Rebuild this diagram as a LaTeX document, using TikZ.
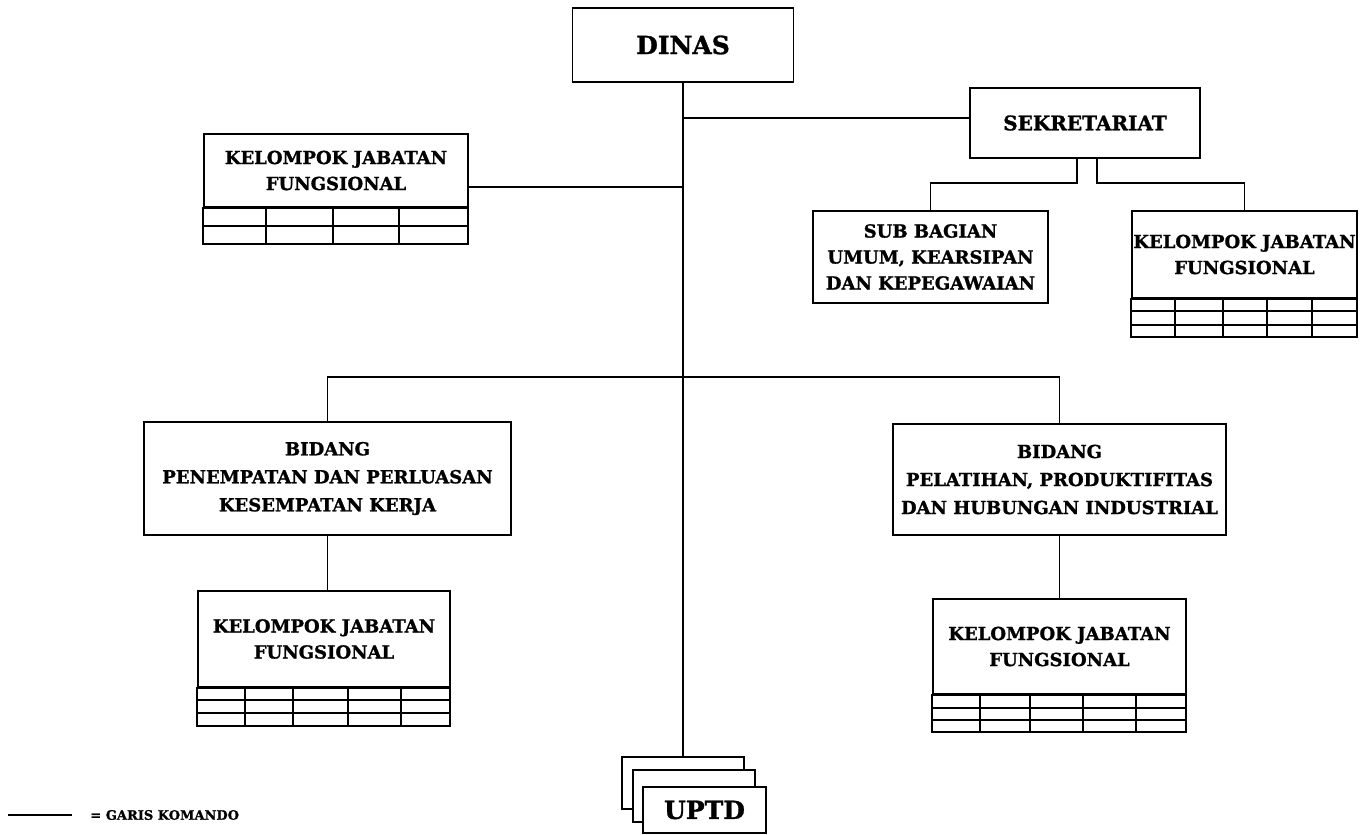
\documentclass[tikz,border=0pt]{standalone}
\usepackage{fontspec}
\setmainfont{DejaVu Serif}[BoldFeatures={FakeBold=1.2}]
\usepackage{tikz}

\begin{document}
\begin{tikzpicture}[x=0.5pt,y=-0.5pt,
		box/.style={draw, line width=.85pt, align=center, inner sep=0pt,
			font=\bfseries\fontsize{9}{13}\selectfont},
		big/.style={font=\bfseries\fontsize{12.5}{15}\selectfont},
		line/.style={line width=.7pt},
		grid/.style={line width=.7pt}]
				\useasboundingbox (0,0) rectangle (1363,834);
				% top level
				\node[box,big,minimum width=110.5pt,minimum height=37pt] (dinas) at (683,45) {DINAS};
				\node[box,minimum width=115pt,minimum height=35pt,font=\bfseries\fontsize{10}{12}\selectfont] (sekr) at (1085,123) {SEKRETARIAT};
				\node[box,minimum width=132pt,minimum height=36.5pt] (kjfA) at (336,170.5) {KELOMPOK JABATAN\\FUNGSIONAL};
				\node[box,minimum width=117.5pt,minimum height=46pt] (sub) at (930.5,257) {SUB BAGIAN\\UMUM, KEARSIPAN\\DAN KEPEGAWAIAN};
				\node[box,minimum width=112.5pt,minimum height=43.5pt] (kjfB) at (1244.5,254.5) {KELOMPOK JABATAN\\FUNGSIONAL};
				% bidang
				\node[box,minimum width=183.5pt,minimum height=56.5pt,font=\bfseries\fontsize{9}{14}\selectfont] (bidA) at (327.5,478.5) {BIDANG\\PENEMPATAN DAN PERLUASAN\\KESEMPATAN KERJA};
				\node[box,minimum width=166.5pt,minimum height=55.5pt,font=\bfseries\fontsize{9}{14}\selectfont] (bidB) at (1059.5,479.5) {BIDANG\\PELATIHAN, PRODUKTIFITAS\\DAN HUBUNGAN INDUSTRIAL};
				\node[box,minimum width=126pt,minimum height=48pt] (kjfC) at (324,639) {KELOMPOK JABATAN\\FUNGSIONAL};
				\node[box,minimum width=126.5pt,minimum height=47.5pt] (kjfD) at (1059.5,646.5) {KELOMPOK JABATAN\\FUNGSIONAL};
				% uptd
				\node[box,fill=white,minimum width=61pt,minimum height=26pt] (uptdA) at (683,783) {};
				\node[box,fill=white,minimum width=61pt,minimum height=26pt] (uptdB) at (694,796) {};
				\node[box,big,fill=white,minimum width=61.5pt,minimum height=23pt] (uptd) at (704.5,810) {UPTD};
				% grids
				\draw[grid] (kjfA.south west) rectangle (468,244);
				\draw[grid] (204,226) -- (468,226);
				\foreach \x in {266,333,399} \draw[grid] (\x,207) -- (\x,244);
				\draw[grid] (kjfB.south west) rectangle (1357,337);
				\foreach \y in {311,325} \draw[grid] (1132,\y) -- (1357,\y);
				\foreach \x in {1175,1223,1267,1312} \draw[grid] (\x,298) -- (\x,337);
				\draw[grid] (kjfC.south west) rectangle (450,726);
				\foreach \y in {700,713} \draw[grid] (198,\y) -- (450,\y);
				\foreach \x in {245,293,348,401} \draw[grid] (\x,687) -- (\x,726);
				\draw[grid] (kjfD.south west) rectangle (1186,732);
				\foreach \y in {708,720} \draw[grid] (933,\y) -- (1186,\y);
				\foreach \x in {980,1030,1083,1136} \draw[grid] (\x,694) -- (\x,732);
				% connectors
				\coordinate (bar) at (683,377);
				\draw[line] (dinas.south) -- (uptdA.north);
				\draw[line] ([yshift=2.5pt]sekr.west) -- ([yshift=2.5pt]sekr.west -| dinas.south);
				\draw[line] ([yshift=10.5pt]kjfA.south east) -- ([yshift=10.5pt]kjfA.south east -| dinas.south);
				\draw[line] ([xshift=-4pt]sekr.south) -- ++(0,24) -| (sub.north);
				\draw[line] ([xshift=6pt]sekr.south) -- ++(0,24) -| (kjfB.north);
				\draw[line] (bidA.north) |- (bar) -| (bidB.north);
				\draw[line] (bidA.south) -- (bidA.south |- kjfC.north);
				\draw[line] (bidB.south) -- (bidB.south |- kjfD.north);
				% legend
				\coordinate (lgA) at (8,815);
				\coordinate (lgB) at (72,815);
				\draw[line] (lgA) -- (lgB);
				\node[right,inner sep=0pt,font=\bfseries\fontsize{6.5}{8}\selectfont] (lgtext) at (90,815) {= GARIS KOMANDO};
\end{tikzpicture}
\end{document}
